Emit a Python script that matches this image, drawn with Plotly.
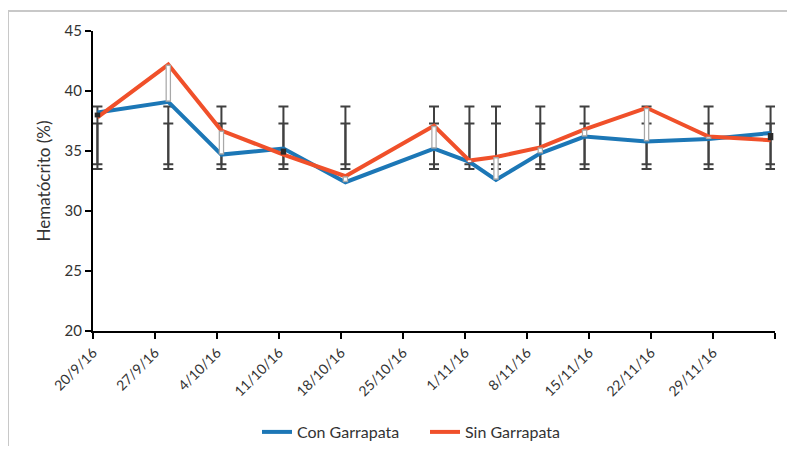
import plotly.graph_objects as go
import pandas as pd

# ---- data ----
dates = ["2016-09-20", "2016-09-28", "2016-10-04", "2016-10-11", "2016-10-18",
         "2016-10-28", "2016-11-01", "2016-11-04", "2016-11-09", "2016-11-14",
         "2016-11-21", "2016-11-28", "2016-12-05"]
con_garrapata = [38.2, 39.1, 34.7, 35.2, 32.4, 35.2, 34.1, 32.6, 34.8, 36.2, 35.8, 36.0, 36.5]
sin_garrapata = [37.8, 42.2, 36.7, 34.7, 32.9, 37.1, 34.2, 34.5, 35.3, 36.8, 38.6, 36.2, 35.9]

# error-bar ranges (identical at every date in the original)
err_a_low = [33.9] * 13
err_a_high = [38.7] * 13
err_b_low = [33.5] * 13
err_b_high = [37.3] * 13

tick_dates = ["2016-09-20", "2016-09-27", "2016-10-04", "2016-10-11", "2016-10-18",
              "2016-10-25", "2016-11-01", "2016-11-08", "2016-11-15", "2016-11-22",
              "2016-11-29", "2016-12-06"]
tick_labels = ["20/9/16", "27/9/16", "4/10/16", "11/10/16", "18/10/16", "25/10/16",
               "1/11/16", "8/11/16", "15/11/16", "22/11/16", "29/11/16", ""]

# Excel date axis places each point in the middle of its day
x = list(pd.to_datetime(dates) + pd.Timedelta(hours=12))

BLUE = "#1c77b6"
ORANGE = "#f0502a"
ERR = "#404040"
TXT = "#333333"

fig = go.Figure()

# error bars (anchored at the middle of each range)
for lo_arr, hi_arr in [(err_a_low, err_a_high), (err_b_low, err_b_high)]:
    mid = [(l + h) / 2 for l, h in zip(lo_arr, hi_arr)]
    half = [(h - l) / 2 for l, h in zip(lo_arr, hi_arr)]
    fig.add_trace(go.Scatter(
        x=x, y=mid, mode="markers", marker=dict(size=1, opacity=0),
        error_y=dict(type="data", array=half, visible=True, color=ERR,
                     thickness=2, width=5),
        showlegend=False, hoverinfo="skip"))

# series lines
fig.add_trace(go.Scatter(x=x, y=con_garrapata, mode="lines", name="Con Garrapata",
                         line=dict(color=BLUE, width=4)))
fig.add_trace(go.Scatter(x=x, y=sin_garrapata, mode="lines", name="Sin Garrapata",
                         line=dict(color=ORANGE, width=4)))

# up / down bars between the two series
up_x, up_y, up_in_y, dn_x, dn_y = [], [], [], [], []
for xi, a, b in zip(x, con_garrapata, sin_garrapata):
    if b >= a:
        up_x += [xi, xi, None]
        up_y += [a, b, None]
        up_in_y += [a + 0.12, b - 0.12, None]
    else:
        dn_x += [xi, xi, None]
        dn_y += [b, a, None]

fig.add_trace(go.Scatter(x=up_x, y=up_y, mode="lines", line=dict(color="#a8a8a8", width=5.5),
                         showlegend=False, hoverinfo="skip"))
fig.add_trace(go.Scatter(x=up_x, y=up_in_y, mode="lines", line=dict(color="#ffffff", width=3),
                         showlegend=False, hoverinfo="skip"))
fig.add_trace(go.Scatter(x=dn_x, y=dn_y, mode="lines", line=dict(color="#2b2b2b", width=5.5),
                         showlegend=False, hoverinfo="skip"))

# page body has an 8px margin, so the figure is sized/placed accordingly
OFF = 8
W, H = 795 - 2 * OFF, 454 - 2 * OFF
L, T = 93 - OFF, 31 - OFF
pw, ph = 682, 300
R, B = W - L - pw, H - T - ph

fig.update_layout(
    width=W, height=H,
    margin=dict(l=L, r=R, t=T, b=B, autoexpand=False),
    paper_bgcolor="white", plot_bgcolor="white",
    font=dict(family="Lato, 'Open Sans', sans-serif", color=TXT),
    showlegend=True,
    legend=dict(orientation="h", x=(257 - OFF - L) / pw, xanchor="left",
                y=(T + ph - (432 - OFF)) / ph, yanchor="middle",
                font=dict(size=16, color=TXT), itemwidth=30,
                entrywidth=123, entrywidthmode="pixels",
                tracegroupgap=0, bgcolor="rgba(0,0,0,0)"),
    xaxis=dict(
        type="date", automargin=False,
        range=[tick_dates[0], tick_dates[-1]],
        tickvals=tick_dates, ticktext=tick_labels,
        tickangle=-45,
        showgrid=False, zeroline=False,
        showline=True, linecolor="black", linewidth=2,
        ticks="outside", ticklen=6, tickwidth=2, tickcolor="black",
        tickfont=dict(size=14, color=TXT),
    ),
    yaxis=dict(
        range=[20, 45], tickvals=[20, 25, 30, 35, 40, 45], automargin=False,
        showgrid=False, zeroline=False,
        showline=True, linecolor="black", linewidth=2,
        ticks="outside", ticklen=6, tickwidth=2, tickcolor="black",
        tickfont=dict(size=15, color=TXT),
        title=dict(text="Hematócrito (%)", font=dict(size=17, color=TXT), standoff=10),
    ),
)

# light grey chart-area frame (top and left edges visible)
fx = (8 - OFF - L) / pw
fy = 1 + (T - (11 - OFF)) / ph
fig.add_shape(type="line", xref="paper", yref="paper", x0=fx, x1=fx, y0=fy, y1=-1,
              line=dict(color="#c8c8c8", width=2))
fig.add_shape(type="line", xref="paper", yref="paper", x0=fx, x1=1.2, y0=fy, y1=fy,
              line=dict(color="#c8c8c8", width=2))

fig.write_html("out.html")
